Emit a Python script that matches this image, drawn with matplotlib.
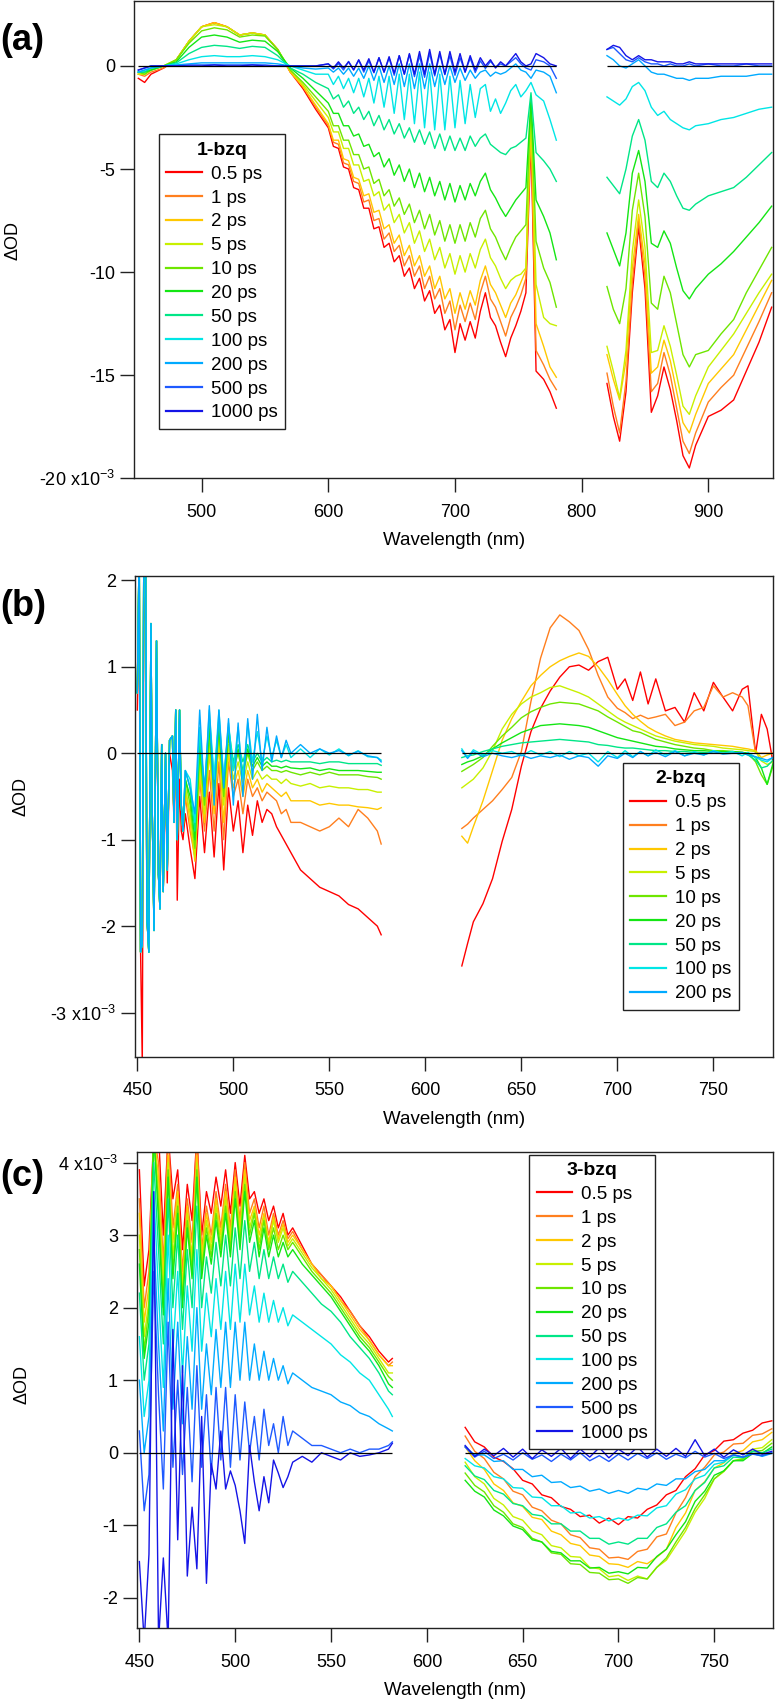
import matplotlib
matplotlib.use("Agg")
import matplotlib.pyplot as plt

plt.rcParams['font.family'] = ['Liberation Sans', 'DejaVu Sans']
plt.rcParams['axes.unicode_minus'] = False
plt.rcParams['mathtext.default'] = 'regular'

# ================= DATA (dOD in units of 1e-3) =================
delays = ['0.5', '1', '2', '5', '10', '20', '50', '100', '200', '500', '1000']
colors = ['#ff0000', '#ff7f1e', '#ffc800', '#c8f000', '#6ee600', '#14e614',
          '#00e687', '#00e6e6', '#00aaff', '#1e5aff', '#1414e6']

# ---- (a) 1-bzq ----
wl_a_left = [450, 455, 460, 470, 480, 490, 500, 510, 520, 530, 540, 550, 560, 570, 580, 590,
             600, 604, 608, 612, 616, 620, 624, 628, 632, 636, 640, 644, 648, 652, 656, 660,
             664, 668, 672, 676, 680, 684, 688, 692, 696, 700, 704, 708, 712, 716, 720, 724,
             728, 732, 736, 740, 744, 748, 752, 756, 760, 764, 770, 775, 780]
wl_a_right = [820, 825, 830, 835, 840, 845, 850, 855, 860, 865, 870, 875, 880, 885, 890,
              900, 910, 920, 930, 940, 950]

a_05_left = [-0.6, -0.8, -0.4, -0.1, 0.3, 1.2, 1.9, 2.1, 1.9, 1.5, 1.6, 1.5, 0.8, -0.3, -1.1, -2.1,
             -3.0, -3.9, -4.0, -4.9, -5.0, -5.9, -6.0, -6.9, -6.9, -7.9, -7.8, -8.8, -8.6, -9.5, -9.2, -10.2,
             -9.8, -10.8, -10.3, -11.4, -10.9, -12.0, -11.6, -12.8, -12.3, -13.9, -12.5, -13.3, -12.4, -13.2, -11.9, -11.0,
             -12.2, -12.6, -13.4, -14.1, -13.2, -12.6, -11.9, -11.0, -3.5, -14.8, -15.2, -15.8, -16.6]
a_1_left = [-0.4, -0.5, -0.3, -0.1, 0.3, 1.2, 1.9, 2.1, 1.9, 1.5, 1.6, 1.5, 0.8, -0.3, -1.0, -2.0,
            -2.9, -3.7, -3.8, -4.7, -4.8, -5.6, -5.7, -6.6, -6.5, -7.5, -7.4, -8.4, -8.1, -9.0, -8.7, -9.7,
            -9.2, -10.2, -9.7, -10.8, -10.2, -11.3, -10.8, -12.0, -11.4, -12.8, -11.6, -12.4, -11.5, -12.3, -11.0, -10.2,
            -11.3, -11.7, -12.4, -13.1, -12.2, -11.7, -11.1, -10.3, -3.0, -13.8, -14.5, -15.2, -15.7]
a_2_left = [-0.4, -0.4, -0.2, 0.0, 0.3, 1.2, 1.9, 2.1, 1.9, 1.5, 1.6, 1.5, 0.8, -0.3, -1.0, -1.9,
            -2.8, -3.6, -3.6, -4.5, -4.6, -5.4, -5.5, -6.3, -6.2, -7.1, -7.0, -7.9, -7.7, -8.6, -8.2, -9.2,
            -8.7, -9.7, -9.2, -10.2, -9.7, -10.8, -10.2, -11.3, -10.8, -12.0, -11.0, -11.8, -10.9, -11.6, -10.4, -9.7,
            -10.6, -11.0, -11.6, -12.2, -11.5, -11.1, -10.5, -9.9, -2.6, -12.5, -13.6, -14.6, -15.1]
a_5_left = [-0.4, -0.4, -0.2, 0.0, 0.3, 1.2, 1.9, 2.0, 1.9, 1.5, 1.6, 1.5, 0.8, -0.2, -0.9, -1.7,
            -2.5, -3.2, -3.2, -4.0, -4.0, -4.8, -4.8, -5.6, -5.5, -6.3, -6.1, -7.0, -6.7, -7.6, -7.2, -8.1,
            -7.6, -8.6, -8.0, -9.0, -8.4, -9.4, -8.8, -9.8, -9.1, -10.1, -9.2, -10.0, -9.1, -9.8, -8.9, -8.4,
            -9.3, -9.7, -10.3, -10.8, -10.4, -10.2, -10.1, -9.8, -2.2, -10.6, -12.2, -12.5, -12.6]
a_10_left = [-0.3, -0.4, -0.2, 0.0, 0.3, 1.1, 1.7, 1.85, 1.75, 1.4, 1.5, 1.45, 0.8, -0.2, -0.8, -1.5,
             -2.2, -2.9, -2.9, -3.6, -3.6, -4.3, -4.3, -5.0, -4.9, -5.7, -5.5, -6.3, -6.0, -6.8, -6.4, -7.2,
             -6.7, -7.6, -7.0, -7.9, -7.2, -8.2, -7.5, -8.5, -7.7, -8.6, -7.7, -8.5, -7.6, -8.3, -7.4, -7.0,
             -7.9, -8.3, -8.9, -9.4, -8.8, -8.3, -8.0, -7.7, -1.8, -8.5, -9.8, -10.5, -11.7]
a_20_left = [-0.3, -0.3, -0.2, 0.0, 0.2, 0.9, 1.4, 1.5, 1.4, 1.15, 1.25, 1.2, 0.7, -0.1, -0.6, -1.2,
             -1.8, -2.3, -2.3, -2.9, -2.9, -3.4, -3.3, -3.9, -3.8, -4.4, -4.2, -4.9, -4.5, -5.3, -4.8, -5.6,
             -5.0, -5.9, -5.2, -6.1, -5.4, -6.3, -5.6, -6.5, -5.7, -6.6, -5.8, -6.5, -5.7, -6.3, -5.6, -5.2,
             -6.0, -6.4, -6.9, -7.3, -6.9, -6.5, -6.2, -5.9, -1.6, -6.5, -7.3, -8.1, -9.4]
a_50_left = [-0.3, -0.3, -0.1, 0.0, 0.15, 0.6, 0.9, 1.0, 0.95, 0.85, 0.95, 0.9, 0.5, -0.1, -0.4, -0.8,
             -1.1, -1.6, -1.4, -2.0, -1.7, -2.3, -2.0, -2.6, -2.2, -2.9, -2.4, -3.1, -2.6, -3.3, -2.8, -3.5,
             -3.0, -3.7, -3.1, -3.8, -3.2, -4.0, -3.3, -4.1, -3.4, -4.1, -3.5, -4.1, -3.4, -3.9, -3.5, -3.3,
             -3.8, -4.0, -4.2, -4.3, -4.0, -3.9, -3.7, -3.5, -1.3, -4.2, -4.6, -5.0, -5.6]
a_100_left = [-0.3, -0.2, -0.1, 0.0, 0.1, 0.3, 0.45, 0.5, 0.45, 0.45, 0.5, 0.45, 0.3, 0.0, -0.2, -0.4,
              -0.4, -0.9, -0.5, -1.1, -0.6, -1.3, -0.6, -1.5, -0.6, -1.8, -0.5, -2.0, -0.5, -2.3, -0.4, -2.6,
              -0.4, -2.8, -0.3, -3.0, -0.3, -3.1, -0.4, -3.1, -0.5, -3.0, -0.7, -2.8, -0.9, -2.5, -1.1, -0.9,
              -2.2, -1.6, -2.3, -1.8, -1.2, -0.9, -1.5, -1.2, -0.8, -1.4, -1.7, -2.6, -3.6]
a_200_left = [-0.3, -0.2, -0.1, 0.0, 0.05, 0.1, 0.15, 0.15, 0.15, 0.15, 0.15, 0.15, 0.1, 0.0, -0.1, -0.15,
              -0.1, -0.3, -0.1, -0.4, -0.1, -0.5, -0.1, -0.6, 0.0, -0.7, 0.0, -0.8, 0.0, -0.9, 0.1, -1.0,
              0.1, -1.1, 0.1, -1.1, 0.1, -1.0, 0.0, -0.9, 0.0, -0.8, -0.1, -0.7, -0.2, -0.6, -0.3, -0.2,
              -0.5, -0.3, -0.4, -0.3, -0.1, 0.1, -0.2, -0.3, -0.6, -0.2, -0.3, -0.5, -1.3]
a_500_left = [-0.2, -0.1, 0.0, 0.0, 0.0, 0.05, 0.05, 0.05, 0.05, 0.05, 0.05, 0.05, 0.0, 0.0, 0.0, 0.0,
              0.1, -0.15, 0.12, -0.2, 0.22, -0.18, 0.28, -0.3, 0.25, -0.33, 0.4, -0.3, 0.38, -0.45, 0.5, -0.4,
              0.55, -0.52, 0.5, -0.55, 0.62, -0.48, 0.58, -0.42, 0.5, -0.45, 0.4, -0.3, 0.38, -0.32, 0.25, -0.12,
              0.22, -0.05, 0.1, 0.0, 0.2, 0.4, 0.1, -0.1, -0.2, 0.3, 0.2, 0.0, -0.6]
a_1000_left = [-0.2, -0.1, 0.0, 0.0, 0.0, 0.0, 0.0, 0.05, 0.0, 0.0, 0.05, 0.0, 0.0, 0.0, 0.0, 0.0,
               0.1, -0.1, 0.2, -0.1, 0.2, -0.2, 0.3, -0.2, 0.35, -0.3, 0.4, -0.3, 0.45, -0.35, 0.5, -0.4,
               0.6, -0.4, 0.7, -0.4, 0.8, -0.4, 0.7, -0.4, 0.7, -0.3, 0.6, -0.3, 0.5, -0.2, 0.4, 0.0,
               0.3, -0.1, 0.2, 0.0, 0.3, 0.6, 0.2, 0.0, 0.1, 0.6, 0.4, 0.1, 0.0]

a_05_right = [-15.4, -17.0, -18.2, -15.8, -11.0, -7.8, -10.8, -16.8, -16.0, -14.6, -15.7, -17.2, -18.9, -19.5, -18.4, -17.0, -16.7, -16.2, -14.8, -13.4, -11.7]
a_1_right = [-14.9, -16.5, -17.8, -15.3, -10.5, -7.5, -10.2, -15.8, -15.4, -13.9, -15.0, -16.6, -18.2, -18.8, -17.8, -16.3, -15.6, -15.0, -13.7, -12.4, -11.0]
a_2_right = [-14.0, -15.2, -16.2, -14.3, -9.8, -7.2, -9.6, -14.9, -14.6, -13.3, -14.3, -15.8, -17.3, -17.8, -16.9, -15.4, -14.7, -14.0, -12.8, -11.6, -10.4]
a_5_right = [-13.6, -14.8, -16.1, -13.8, -9.0, -6.5, -8.8, -13.9, -13.8, -12.6, -13.6, -15.0, -16.5, -16.9, -16.0, -14.6, -13.8, -13.0, -12.0, -11.0, -10.1]
a_10_right = [-10.7, -11.8, -12.5, -10.8, -7.0, -5.2, -7.3, -11.5, -11.8, -10.2, -11.0, -12.5, -14.0, -14.6, -14.0, -13.8, -13.0, -12.3, -11.0, -9.9, -8.8]
a_20_right = [-8.1, -8.9, -9.7, -8.1, -5.2, -4.1, -5.6, -8.6, -8.8, -8.0, -8.6, -9.8, -10.9, -11.3, -10.8, -10.1, -9.6, -9.0, -8.3, -7.6, -6.8]
a_50_right = [-5.4, -5.8, -6.2, -5.0, -3.4, -2.6, -3.6, -5.6, -5.9, -5.2, -5.6, -6.3, -6.9, -7.0, -6.7, -6.3, -6.1, -5.9, -5.4, -4.8, -4.2]
a_100_right = [-1.5, -1.7, -1.9, -1.6, -1.0, -0.8, -1.2, -2.0, -2.4, -2.2, -2.6, -2.8, -3.0, -3.1, -2.9, -2.8, -2.6, -2.5, -2.3, -2.1, -2.0]
a_200_right = [0.5, 0.3, 0.0, -0.1, 0.1, 0.3, 0.0, -0.3, -0.4, -0.4, -0.5, -0.6, -0.6, -0.7, -0.6, -0.6, -0.5, -0.5, -0.5, -0.4, -0.4]
a_500_right = [0.8, 0.9, 0.6, 0.3, 0.2, 0.4, 0.2, 0.1, 0.1, 0.0, 0.1, 0.0, 0.0, 0.1, 0.0, 0.1, 0.0, 0.0, 0.1, 0.0, 0.0]
a_1000_right = [0.8, 1.0, 0.9, 0.5, 0.3, 0.5, 0.3, 0.3, 0.2, 0.2, 0.2, 0.1, 0.1, 0.2, 0.1, 0.1, 0.1, 0.1, 0.1, 0.1, 0.1]

# ---- (b) 2-bzq ----
wl_b_head = [450, 451, 451.7, 452.6, 453.4, 454.3, 455, 456, 457.1, 457.8, 458.7, 460, 461,
             461.8, 462.7, 463.5, 464.7, 465.6, 466.8, 468.3, 469.1, 470, 470.8, 472, 472.9, 473.8]
b_head = [0.7, 2.4, -2.3, -2.2, 2.4, 2.4, -1.9, -2.3, 1.5, -0.7, -2.05, 1.3, -1.4,
          -1.8, 0.1, -1.6, 0.0, -1.35, 0.15, 0.2, -0.8, 0.5, -1.0, 0.5, -0.6, -0.9]
b_head_05 = [0.5, 1.8, -2.3, -3.6, 1.8, 1.5, -1.9, -2.2, 1.3, -0.7, -2.0, 1.1, -1.4,
             -1.5, 0.0, -1.6, -0.2, -1.5, 0.0, -0.2, -0.8, 0.3, -1.7, -0.3, -0.9, -1.0]
wl_b_left = [475, 477.5, 480, 482.5, 485, 487.5, 490, 492.5, 495, 497.5, 500, 502.5, 505, 507.5,
             510, 512.5, 515, 517.5, 520, 522.5, 525, 527.5, 530, 535, 540, 545, 550, 555, 560,
             565, 570, 575, 577]
wl_b_right = [619, 622, 625, 630, 635, 640, 645, 650, 655, 660, 665, 670, 675, 680, 685, 690,
              695, 700, 704, 708, 712, 716, 720, 725, 730, 735, 740, 745, 750, 755, 760, 765,
              768, 772, 775, 778, 781]

b_05_left = [-0.7, -1.1, -1.45, -0.5, -1.15, -0.45, -1.2, -0.35, -1.35, -0.4, -0.9, -0.55, -1.15, -0.6,
             -0.95, -0.55, -0.8, -0.65, -0.7, -0.85, -0.95, -1.05, -1.15, -1.35, -1.45, -1.55, -1.6, -1.65,
             -1.75, -1.8, -1.9, -2.0, -2.1]
b_1_left = [-0.5, -0.9, -1.2, -0.3, -0.9, -0.2, -0.9, -0.1, -1.0, -0.1, -0.5, -0.3, -0.7, -0.3,
            -0.5, -0.4, -0.55, -0.45, -0.5, -0.55, -0.7, -0.65, -0.8, -0.8, -0.85, -0.9, -0.85, -0.75,
            -0.85, -0.65, -0.75, -0.9, -1.05]
b_2_left = [-0.4, -0.8, -1.25, -0.2, -0.8, 0.0, -0.7, 0.1, -0.8, 0.0, -0.4, -0.2, -0.5, -0.2,
            -0.4, -0.3, -0.45, -0.35, -0.4, -0.45, -0.5, -0.45, -0.55, -0.55, -0.55, -0.6, -0.58, -0.6,
            -0.6, -0.62, -0.63, -0.65, -0.63]
b_5_left = [-0.4, -0.7, -1.2, -0.1, -0.7, 0.1, -0.6, 0.2, -0.6, 0.1, -0.3, -0.1, -0.35, -0.1,
            -0.3, -0.2, -0.3, -0.25, -0.3, -0.3, -0.35, -0.3, -0.35, -0.38, -0.35, -0.4, -0.38, -0.4,
            -0.4, -0.42, -0.42, -0.45, -0.45]
b_10_left = [-0.3, -0.6, -1.1, 0.0, -0.6, 0.2, -0.5, 0.3, -0.5, 0.2, -0.2, 0.0, -0.25, 0.0,
             -0.2, -0.1, -0.2, -0.15, -0.2, -0.2, -0.22, -0.2, -0.22, -0.25, -0.22, -0.25, -0.22, -0.25,
             -0.25, -0.25, -0.27, -0.28, -0.3]
b_20_left = [-0.3, -0.5, -1.0, 0.1, -0.5, 0.3, -0.4, 0.3, -0.4, 0.25, -0.15, 0.05, -0.2, 0.05,
             -0.15, -0.05, -0.15, -0.1, -0.15, -0.15, -0.17, -0.15, -0.17, -0.18, -0.17, -0.2, -0.18, -0.2,
             -0.2, -0.2, -0.21, -0.22, -0.22]
b_50_left = [-0.2, -0.4, -0.9, 0.2, -0.4, 0.4, -0.3, 0.4, -0.3, 0.3, -0.1, 0.1, -0.1, 0.1,
             -0.1, 0.0, -0.1, -0.05, -0.1, -0.08, -0.1, -0.08, -0.1, -0.1, -0.1, -0.12, -0.1, -0.1,
             -0.12, -0.12, -0.12, -0.12, -0.14]
b_100_left = [-0.2, -0.3, -0.8, 0.3, -0.5, 0.5, -0.3, 0.5, -0.3, 0.35, -0.2, 0.3, -0.3, 0.35,
              -0.1, 0.25, -0.1, 0.2, -0.05, 0.15, -0.05, 0.1, -0.05, 0.05, -0.05, 0.05, -0.02, 0.05,
              -0.03, 0.03, -0.04, -0.05, -0.08]
b_200_left = [-0.2, -0.4, -0.7, 0.5, -0.5, 0.55, -0.6, 0.5, -0.4, 0.4, -0.6, 0.35, -0.5, 0.4,
              -0.3, 0.45, -0.2, 0.3, -0.1, 0.2, -0.05, 0.15, 0.0, 0.1, 0.0, 0.05, 0.0, 0.03,
              -0.02, 0.02, -0.03, -0.05, -0.1]

b_05_right = [-2.46, -2.2, -1.95, -1.74, -1.45, -1.02, -0.65, -0.15, 0.25, 0.52, 0.72, 0.88, 1.0, 1.02,
              0.96, 1.06, 1.11, 0.74, 0.86, 0.61, 0.94, 0.57, 0.86, 0.49, 0.53, 0.36, 0.7, 0.49,
              0.82, 0.65, 0.49, 0.74, 0.78, 0.0, 0.45, 0.28, -0.1]
b_1_right = [-0.87, -0.82, -0.75, -0.65, -0.55, -0.42, -0.28, 0.02, 0.6, 1.1, 1.45, 1.6, 1.52, 1.42,
             1.2, 0.9, 0.65, 0.52, 0.47, 0.4, 0.44, 0.4, 0.42, 0.45, 0.32, 0.36, 0.49, 0.53,
             0.78, 0.65, 0.7, 0.65, 0.55, 0.0, 0.0, 0.0, 0.0]
b_2_right = [-0.96, -1.04, -0.85, -0.55, -0.2, 0.15, 0.4, 0.6, 0.78, 0.9, 1.0, 1.07, 1.12, 1.16,
             1.12, 1.0, 0.85, 0.68, 0.55, 0.45, 0.37, 0.3, 0.25, 0.2, 0.16, 0.14, 0.12, 0.11,
             0.1, 0.09, 0.08, 0.06, 0.05, 0.03, -0.05, -0.02, 0.0]
b_5_right = [-0.4, -0.35, -0.3, -0.17, 0.03, 0.28, 0.45, 0.57, 0.65, 0.7, 0.76, 0.78, 0.74, 0.7,
             0.65, 0.57, 0.49, 0.41, 0.36, 0.32, 0.28, 0.24, 0.2, 0.17, 0.14, 0.12, 0.1, 0.09,
             0.08, 0.06, 0.05, 0.04, 0.03, 0.02, -0.09, -0.13, -0.1]
b_10_right = [-0.21, -0.17, -0.13, -0.05, 0.08, 0.2, 0.3, 0.41, 0.48, 0.53, 0.57, 0.59, 0.58, 0.57,
              0.53, 0.49, 0.42, 0.36, 0.31, 0.26, 0.24, 0.2, 0.16, 0.13, 0.1, 0.08, 0.06, 0.05,
              0.03, 0.03, 0.02, 0.01, 0.0, -0.1, -0.25, -0.36, -0.15]
b_20_right = [-0.13, -0.1, -0.08, -0.03, 0.05, 0.12, 0.18, 0.24, 0.28, 0.32, 0.33, 0.34, 0.33, 0.32,
              0.3, 0.26, 0.22, 0.18, 0.16, 0.14, 0.12, 0.1, 0.08, 0.07, 0.05, 0.04, 0.03, 0.03,
              0.02, 0.02, 0.02, 0.01, 0.0, -0.05, -0.17, -0.36, -0.12]
b_50_right = [-0.05, -0.03, -0.02, 0.02, 0.05, 0.08, 0.1, 0.12, 0.13, 0.14, 0.15, 0.16, 0.15, 0.14,
              0.13, 0.1, 0.09, 0.07, 0.06, 0.06, 0.05, 0.04, 0.03, 0.03, 0.02, 0.02, 0.01, 0.01,
              0.0, 0.0, 0.0, 0.0, -0.02, -0.08, -0.17, -0.15, -0.08]
b_100_right = [0.05, -0.05, 0.04, -0.02, 0.03, 0.0, 0.02, -0.03, 0.03, -0.02, 0.02, -0.04, 0.02, -0.03,
               0.0, -0.1, 0.02, -0.05, 0.03, -0.04, 0.02, -0.03, 0.04, -0.02, 0.03, -0.03, 0.02, -0.02,
               0.03, 0.0, 0.02, -0.03, 0.01, -0.05, -0.08, -0.1, -0.05]
b_200_right = [0.03, -0.06, 0.02, -0.04, 0.0, -0.03, -0.05, -0.02, -0.06, -0.03, -0.05, -0.02, -0.07, -0.03,
               -0.05, -0.15, -0.03, -0.06, 0.0, -0.05, 0.02, -0.03, 0.01, -0.04, 0.02, -0.03, 0.0, -0.02,
               0.02, -0.01, 0.0, 0.01, -0.02, -0.04, -0.06, -0.08, -0.05]

# ---- (c) 3-bzq ----
wl_c_left = [450, 452.5, 455, 457.5, 460, 462.5, 465, 467.5, 470, 472.5, 475, 477.5, 480, 482.5,
             485, 487.5, 490, 492.5, 495, 497.5, 500, 502.5, 505, 507.5, 510, 512.5, 515, 517.5,
             520, 522.5, 525, 527.5, 530, 535, 540, 545, 550, 555, 560, 565, 570, 575, 580, 582]
wl_c_right = [620, 625, 630, 635, 640, 645, 650, 655, 660, 665, 670, 675, 680, 685, 690, 695,
              700, 705, 710, 715, 720, 725, 730, 735, 740, 745, 750, 755, 760, 765, 770, 775, 780]

c_05_left = [3.9, 2.3, 2.8, 4.4, 4.4, 3.0, 4.4, 3.5, 3.9, 2.8, 3.7, 3.2, 4.4, 3.0, 3.6, 3.3, 3.8, 3.4,
             3.9, 3.3, 4.0, 3.4, 4.1, 3.5, 3.6, 3.3, 3.5, 3.2, 3.4, 3.1, 3.3, 3.0, 3.1, 2.85, 2.6,
             2.45, 2.3, 2.15, 1.95, 1.75, 1.6, 1.4, 1.25, 1.3]
c_1_left = [3.5, 2.0, 2.5, 4.4, 4.0, 2.6, 4.4, 3.1, 3.7, 2.5, 3.5, 2.9, 4.4, 2.8, 3.4, 3.0, 3.6, 3.1,
            3.7, 3.1, 3.9, 3.2, 4.0, 3.3, 3.5, 3.1, 3.4, 3.0, 3.3, 3.0, 3.2, 2.95, 3.05, 2.8, 2.6,
            2.45, 2.3, 2.1, 1.95, 1.75, 1.55, 1.35, 1.2, 1.25]
c_2_left = [3.3, 1.8, 2.3, 4.4, 3.8, 2.4, 4.1, 2.9, 3.6, 2.3, 3.4, 2.7, 4.1, 2.7, 3.3, 2.9, 3.5, 3.0,
            3.6, 3.0, 3.8, 3.1, 3.9, 3.2, 3.4, 3.0, 3.3, 2.9, 3.25, 2.95, 3.15, 2.9, 3.0, 2.8, 2.6,
            2.4, 2.3, 2.1, 1.9, 1.7, 1.55, 1.35, 1.2, 1.2]
c_5_left = [3.0, 1.6, 2.1, 4.4, 3.6, 2.2, 4.0, 2.7, 3.5, 2.2, 3.3, 2.6, 4.0, 2.6, 3.2, 2.8, 3.4, 2.9,
            3.5, 2.9, 3.7, 3.0, 3.8, 3.1, 3.35, 2.9, 3.25, 2.85, 3.2, 2.9, 3.1, 2.85, 2.95, 2.75, 2.55,
            2.4, 2.25, 2.05, 1.85, 1.65, 1.5, 1.3, 1.1, 1.1]
c_10_left = [2.8, 1.4, 2.0, 4.4, 3.4, 2.0, 3.9, 2.5, 3.4, 2.1, 3.2, 2.5, 3.9, 2.5, 3.1, 2.7, 3.3, 2.8,
             3.4, 2.8, 3.6, 2.9, 3.7, 3.0, 3.3, 2.8, 3.2, 2.8, 3.1, 2.8, 3.0, 2.8, 2.9, 2.7, 2.5,
             2.35, 2.2, 2.0, 1.8, 1.6, 1.45, 1.25, 1.05, 1.0]
c_20_left = [2.6, 1.3, 1.8, 4.4, 3.2, 1.9, 3.8, 2.4, 3.3, 2.0, 3.1, 2.4, 3.8, 2.4, 3.0, 2.6, 3.2, 2.7,
             3.3, 2.7, 3.5, 2.8, 3.6, 2.9, 3.2, 2.7, 3.1, 2.7, 3.0, 2.7, 2.9, 2.7, 2.8, 2.6, 2.45,
             2.3, 2.15, 1.95, 1.75, 1.55, 1.4, 1.2, 0.95, 0.9]
c_50_left = [2.2, 1.0, 1.5, 4.0, 2.8, 1.5, 3.5, 2.0, 3.0, 1.7, 2.8, 2.0, 3.4, 2.0, 2.7, 2.2, 2.9, 2.3,
             3.0, 2.3, 3.1, 2.4, 3.2, 2.5, 2.9, 2.4, 2.8, 2.4, 2.7, 2.4, 2.6, 2.35, 2.5, 2.35, 2.2,
             2.05, 1.95, 1.8, 1.6, 1.45, 1.3, 1.1, 0.85, 0.8]
c_100_left = [1.6, 0.5, 1.0, 3.6, 2.2, 0.9, 3.0, 1.4, 2.5, 1.1, 2.3, 1.4, 2.8, 1.4, 2.2, 1.6, 2.4, 1.7,
              2.5, 1.7, 2.6, 1.8, 2.6, 1.9, 2.3, 1.8, 2.2, 1.8, 2.1, 1.8, 2.0, 1.75, 1.9, 1.8, 1.7,
              1.6, 1.5, 1.35, 1.25, 1.1, 1.0, 0.8, 0.6, 0.5]
c_200_left = [1.0, 0.0, 0.5, 3.0, 1.5, 0.3, 2.4, 0.6, 1.8, 0.4, 1.6, 0.6, 2.0, 0.6, 1.5, 0.8, 1.7, 0.9,
              1.8, 0.9, 1.8, 1.0, 1.8, 1.0, 1.5, 1.0, 1.4, 1.0, 1.3, 1.0, 1.2, 0.95, 1.1, 1.0, 0.9,
              0.85, 0.8, 0.7, 0.65, 0.55, 0.5, 0.4, 0.33, 0.3]
c_500_left = [0.3, -0.8, -0.3, 2.5, 0.8, -0.5, 1.8, -0.2, 1.0, -0.3, 0.9, -0.4, 1.2, -0.2, 0.8, -0.3,
              0.9, -0.1, 0.9, -0.2, 0.8, -0.1, 0.7, 0.0, 0.5, -0.1, 0.6, 0.1, 0.4, 0.0, 0.5, 0.1, 0.3,
              0.2, 0.1, 0.1, 0.05, 0.0, 0.05, 0.0, 0.05, 0.05, 0.1, 0.15]
c_1000_left = [-1.5, -2.6, -1.4, 3.6, -2.6, -1.45, -2.6, 1.7, -1.2, 1.2, -1.7, -0.75, -1.6, 0.5, -1.8,
               -0.15, -0.5, 0.3, -0.5, -0.25, -0.45, -0.8, -1.25, 0.1, -0.4, -0.8, -0.33, -0.69, -0.1,
               -0.28, -0.48, -0.33, -0.13, -0.05, -0.13, 0.0, -0.05, -0.1, 0.0, -0.05, -0.03, 0.0,
               0.05, 0.13]

c_05_right = [0.35, 0.15, 0.08, -0.06, -0.12, -0.22, -0.38, -0.43, -0.58, -0.62, -0.74, -0.78, -0.88,
              -0.86, -0.97, -0.9, -0.99, -0.88, -0.9, -0.78, -0.72, -0.58, -0.52, -0.33, -0.22, -0.03,
              0.03, 0.16, 0.18, 0.27, 0.31, 0.41, 0.44]
c_1_right = [0.23, 0.02, -0.08, -0.27, -0.36, -0.53, -0.58, -0.75, -0.8, -0.93, -0.98, -1.13, -1.17,
             -1.31, -1.33, -1.45, -1.44, -1.47, -1.36, -1.33, -1.16, -1.12, -0.83, -0.62, -0.33, -0.2,
             -0.03, 0.01, 0.12, 0.13, 0.24, 0.26, 0.33]
c_2_right = [0.08, -0.11, -0.23, -0.43, -0.52, -0.69, -0.74, -0.89, -0.92, -1.08, -1.13, -1.25, -1.28,
             -1.41, -1.43, -1.53, -1.54, -1.58, -1.5, -1.53, -1.44, -1.33, -1.03, -0.83, -0.52, -0.4,
             -0.21, -0.14, -0.01, 0.03, 0.15, 0.18, 0.28]
c_5_right = [-0.13, -0.33, -0.43, -0.63, -0.72, -0.88, -0.93, -1.08, -1.13, -1.28, -1.31, -1.43, -1.44,
             -1.58, -1.6, -1.71, -1.69, -1.76, -1.7, -1.74, -1.58, -1.48, -1.28, -1.08, -0.82, -0.63,
             -0.36, -0.26, -0.11, -0.08, 0.05, 0.07, 0.18]
c_10_right = [-0.28, -0.45, -0.54, -0.73, -0.82, -0.98, -1.03, -1.18, -1.23, -1.38, -1.4, -1.53, -1.54,
              -1.65, -1.66, -1.75, -1.74, -1.8, -1.72, -1.74, -1.58, -1.45, -1.23, -1.03, -0.77, -0.58,
              -0.36, -0.25, -0.11, -0.09, 0.02, 0.03, 0.13]
c_20_right = [-0.38, -0.53, -0.61, -0.79, -0.87, -1.01, -1.06, -1.2, -1.23, -1.36, -1.38, -1.49, -1.49,
              -1.59, -1.58, -1.66, -1.64, -1.67, -1.58, -1.59, -1.43, -1.33, -1.13, -0.95, -0.67, -0.53,
              -0.31, -0.25, -0.11, -0.11, -0.01, -0.01, 0.08]
c_50_right = [-0.18, -0.32, -0.37, -0.52, -0.57, -0.7, -0.73, -0.85, -0.87, -0.98, -0.98, -1.08, -1.08,
              -1.18, -1.18, -1.26, -1.23, -1.26, -1.18, -1.18, -1.03, -0.98, -0.82, -0.73, -0.52, -0.41,
              -0.21, -0.18, -0.06, -0.07, 0.02, 0.0, 0.05]
c_100_right = [-0.08, -0.18, -0.21, -0.33, -0.36, -0.48, -0.49, -0.61, -0.62, -0.73, -0.73, -0.83, -0.82,
               -0.9, -0.88, -0.94, -0.9, -0.93, -0.86, -0.87, -0.76, -0.73, -0.57, -0.51, -0.36, -0.31,
               -0.16, -0.13, -0.03, -0.06, -0.01, -0.04, 0.0]
c_200_right = [0.08, -0.03, -0.03, -0.12, -0.11, -0.23, -0.23, -0.33, -0.31, -0.41, -0.4, -0.48, -0.46,
               -0.53, -0.5, -0.56, -0.52, -0.56, -0.49, -0.51, -0.43, -0.45, -0.36, -0.36, -0.26, -0.23,
               -0.11, -0.11, -0.03, -0.06, -0.01, -0.05, -0.01]
c_500_right = [0.08, -0.06, 0.02, -0.08, -0.02, -0.1, 0.0, -0.09, -0.03, -0.12, -0.02, -0.1, 0.0,
               -0.11, -0.04, -0.12, -0.02, -0.1, -0.01, -0.08, 0.0, -0.09, -0.02, -0.07, 0.02, -0.06,
               -0.01, -0.08, -0.03, -0.06, -0.02, -0.04, 0.0]
c_1000_right = [0.1, -0.05, 0.05, -0.04, 0.06, -0.06, 0.05, -0.08, 0.04, -0.05, 0.06, -0.08, 0.05,
                -0.06, 0.07, -0.07, 0.05, -0.04, 0.08, -0.06, 0.05, -0.05, 0.06, -0.05, 0.18, -0.04,
                0.05, -0.06, 0.04, -0.03, 0.05, -0.02, 0.02]

a_left = [a_05_left, a_1_left, a_2_left, a_5_left, a_10_left, a_20_left, a_50_left,
          a_100_left, a_200_left, a_500_left, a_1000_left]
a_right = [a_05_right, a_1_right, a_2_right, a_5_right, a_10_right, a_20_right, a_50_right,
           a_100_right, a_200_right, a_500_right, a_1000_right]
b_left = [b_head_05 + b_05_left] + [b_head + s for s in
          [b_1_left, b_2_left, b_5_left, b_10_left, b_20_left, b_50_left, b_100_left, b_200_left]]
b_right = [b_05_right, b_1_right, b_2_right, b_5_right, b_10_right, b_20_right, b_50_right,
           b_100_right, b_200_right]
c_left = [c_05_left, c_1_left, c_2_left, c_5_left, c_10_left, c_20_left, c_50_left,
          c_100_left, c_200_left, c_500_left, c_1000_left]
c_right = [c_05_right, c_1_right, c_2_right, c_5_right, c_10_right, c_20_right, c_50_right,
           c_100_right, c_200_right, c_500_right, c_1000_right]

# ================= PLOT =================
W, H = 777, 1702
fig = plt.figure(figsize=(W / 100, H / 100), dpi=100)


def px_axes(x0, y0, x1, y1):
    return fig.add_axes([x0 / W, 1 - y1 / H, (x1 - x0) / W, (y1 - y0) / H])


def draw_panel(ax, wl_l, wl_r, left, right, n):
    lines = []
    for i in range(n):
        ln, = ax.plot(wl_l, left[i], color=colors[i], lw=1.0, label=f'{delays[i]} ps')
        ax.plot(wl_r, right[i], color=colors[i], lw=1.0)
        lines.append(ln)
    ax.hlines(0, wl_l[0], wl_l[-1], color='k', lw=0.9, zorder=4)
    ax.hlines(0, wl_r[0], wl_r[-1], color='k', lw=0.9, zorder=4)
    return lines


def style(ax, xlim, ylim, xticks, yticks, ylabels):
    ax.set_xlim(*xlim)
    ax.set_ylim(*ylim)
    ax.set_xticks(xticks)
    ax.set_yticks(yticks)
    ax.set_yticklabels(ylabels)
    ax.tick_params(direction='out', length=10, width=1.0, labelsize=13, color='#222222')
    ax.tick_params(axis='x', pad=8.5)
    ax.tick_params(axis='y', pad=3.5)
    for s in ax.spines.values():
        s.set_linewidth(1.0)
        s.set_color('#222222')
    ax.set_xlabel('Wavelength (nm)', fontsize=13.5, labelpad=8)


def add_legend(ax, lines, title, anchor):
    leg = ax.legend(handles=lines, title=title, loc='upper left', bbox_to_anchor=anchor,
                    borderaxespad=0, fontsize=13.5, title_fontproperties={'weight': 'bold', 'size': 14},
                    frameon=True, fancybox=False, edgecolor='#222222', framealpha=1,
                    handlelength=1.9, handletextpad=0.48, labelspacing=0.36, borderpad=0.4)
    leg.get_frame().set_linewidth(1.0)
    for h in leg.get_lines():
        h.set_linewidth(1.6)


ax_a = px_axes(134, 1, 773.3, 478.3)
lines_a = draw_panel(ax_a, wl_a_left, wl_a_right, a_left, a_right, 11)
style(ax_a, (446.6, 951.3), (-20, 3.15), [500, 600, 700, 800, 900],
      [0, -5, -10, -15, -20], ['0', '-5', '-10', '-15', '-20 x10$^{-3}$'])
add_legend(ax_a, lines_a, '1-bzq', (0.0386, 0.7207))

ax_b = px_axes(135, 576, 773.3, 1056.7)
lines_b = draw_panel(ax_b, wl_b_head + wl_b_left, wl_b_right, b_left, b_right, 9)
style(ax_b, (448.8, 781.2), (-3.51, 2.05), [450, 500, 550, 600, 650, 700, 750],
      [2, 1, 0, -1, -2, -3], ['2', '1', '0', '-1', '-2', '-3 x10$^{-3}$'])
add_legend(ax_b, lines_b, '2-bzq', (0.7643, 0.611))

ax_c = px_axes(136.7, 1151.7, 773.3, 1628.3)
lines_c = draw_panel(ax_c, wl_c_left, wl_c_right, c_left, c_right, 11)
style(ax_c, (448.6, 780.8), (-2.42, 4.15), [450, 500, 550, 600, 650, 700, 750],
      [4, 3, 2, 1, 0, -1, -2], ['4 x10$^{-3}$', '3', '2', '1', '0', '-1', '-2'])
add_legend(ax_c, lines_c, '3-bzq', (0.6163, 0.994))

for txt, x, y in [('(a)', 22, 40), ('(b)', 23, 607), ('(c)', 22, 1177)]:
    fig.text(x / W, 1 - y / H, txt, fontsize=26, fontweight='bold', ha='center', va='center')
for x, y in [(13, 240), (21, 797), (22, 1385)]:
    fig.text(x / W, 1 - y / H, 'ΔOD', rotation=90, fontsize=13, ha='center', va='center')

fig.savefig('out.png', dpi=100)
